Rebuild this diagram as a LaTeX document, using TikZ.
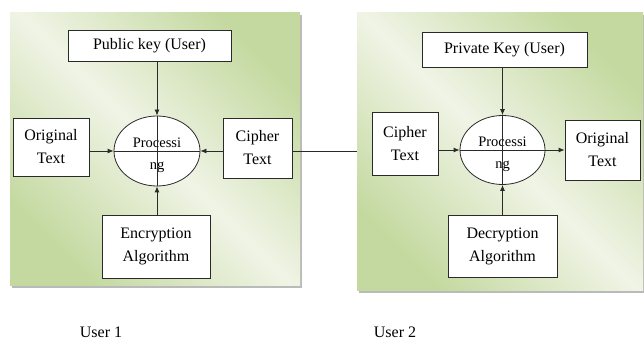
\documentclass[tikz,border=0pt]{standalone}
\usepackage{fontspec}
\setmainfont{Liberation Serif}
\usetikzlibrary{arrows.meta,shapes.geometric,shadows}
\definecolor{pgreen}{HTML}{C4D9A0}
\definecolor{plight}{HTML}{F0F4E6}
\definecolor{lineg}{HTML}{2A2A2A}
\tikzset{
  panel/.style={rectangle, draw=none, minimum width=#1, inner sep=0pt,
    top color=pgreen, bottom color=pgreen, middle color=plight, shading angle=-45,
    drop shadow={shadow xshift=1.5pt, shadow yshift=-2.5pt, fill=black!45, opacity=0.6}},
  box/.style={rectangle, draw=lineg, line width=0.8pt, fill=white, inner sep=0pt,
    align=center, font=\fontsize{16}{23}\selectfont},
  proc/.style={ellipse, draw=lineg, line width=0.8pt, fill=white, inner sep=0pt,
    minimum width=86pt, minimum height=70pt},
  proctext/.style={align=center, inner sep=0pt, font=\fontsize{14.5}{22}\selectfont},
  conn/.style={draw=lineg, line width=0.8pt},
  arr/.style={conn, -{Latex[length=6pt,width=5pt]}},
  lbl/.style={font=\fontsize{16}{19}\selectfont, inner sep=0pt}
}
\begin{document}
\begin{tikzpicture}[x=1pt,y=-1pt]
\useasboundingbox (0,0) rectangle (644,344);
% panels
\node[panel=290pt, minimum height=272pt] (panel1) at (155,149) {};
\node[panel=286pt, minimum height=277pt] (panel2) at (500,151.5) {};
% left panel
\node[box, minimum width=163pt, minimum height=31pt] (pub) at (149.5,45.5) {Public key (User)};
\node[box, minimum width=76pt, minimum height=58pt] (orig1) at (51,147) {Original\\Text};
\node[box, minimum width=69pt, minimum height=60pt] (cipher1) at (257.5,148) {Cipher\\Text};
\node[box, minimum width=108pt, minimum height=63pt] (enc) at (156,246.5) {Encryption\\Algorithm};
\node[proc] (ell1) at (157,151) {};
\node[proctext] (ell1t) at (157,155) {Processi\\ng};
% right panel
\node[box, minimum width=165pt, minimum height=35pt] (priv) at (504.5,49.5) {Private Key (User)};
\node[box, minimum width=66pt, minimum height=63pt] (cipher2) at (405,144) {Cipher\\Text};
\node[box, minimum width=75pt, minimum height=60pt] (orig2) at (602.5,150) {Original\\Text};
\node[box, minimum width=109pt, minimum height=62pt] (dec) at (502.5,246) {Decryption\\Algorithm};
\node[proc, minimum width=85pt, minimum height=69pt] (ell2) at (502.5,150) {};
\node[proctext] (ell2t) at (502.5,154) {Processi\\ng};
% left connectors
\draw[arr] (pub.south -| ell1.north) -- (ell1.north);
\draw[conn] (ell1.north) -- (ell1.south);
\draw[arr] (enc.north -| ell1.south) -- (ell1.south);
\draw[arr] (orig1.east |- ell1.west) -- (ell1.west);
\draw[conn] (ell1.west) -- (ell1.east);
\draw[arr] (cipher1.west |- ell1.east) -- (ell1.east);
% link between users
\draw[conn] (cipher1.east |- ell1.east) -- (panel2.west |- ell1.east);
% right connectors
\draw[arr] (priv.south -| ell2.north) -- (ell2.north);
\draw[conn] (ell2.north) -- (ell2.south);
\draw[arr] (dec.north -| ell2.south) -- (ell2.south);
\draw[arr] (cipher2.east |- ell2.west) -- (ell2.west);
\draw[conn] (ell2.west) -- (ell2.east);
\draw[arr] (ell2.east) -- (orig2.west |- ell2.east);
% labels
\node[lbl] (user1) at (101,332) {User 1};
\node[lbl] (user2) at (395,332) {User 2};
\end{tikzpicture}
\end{document}
